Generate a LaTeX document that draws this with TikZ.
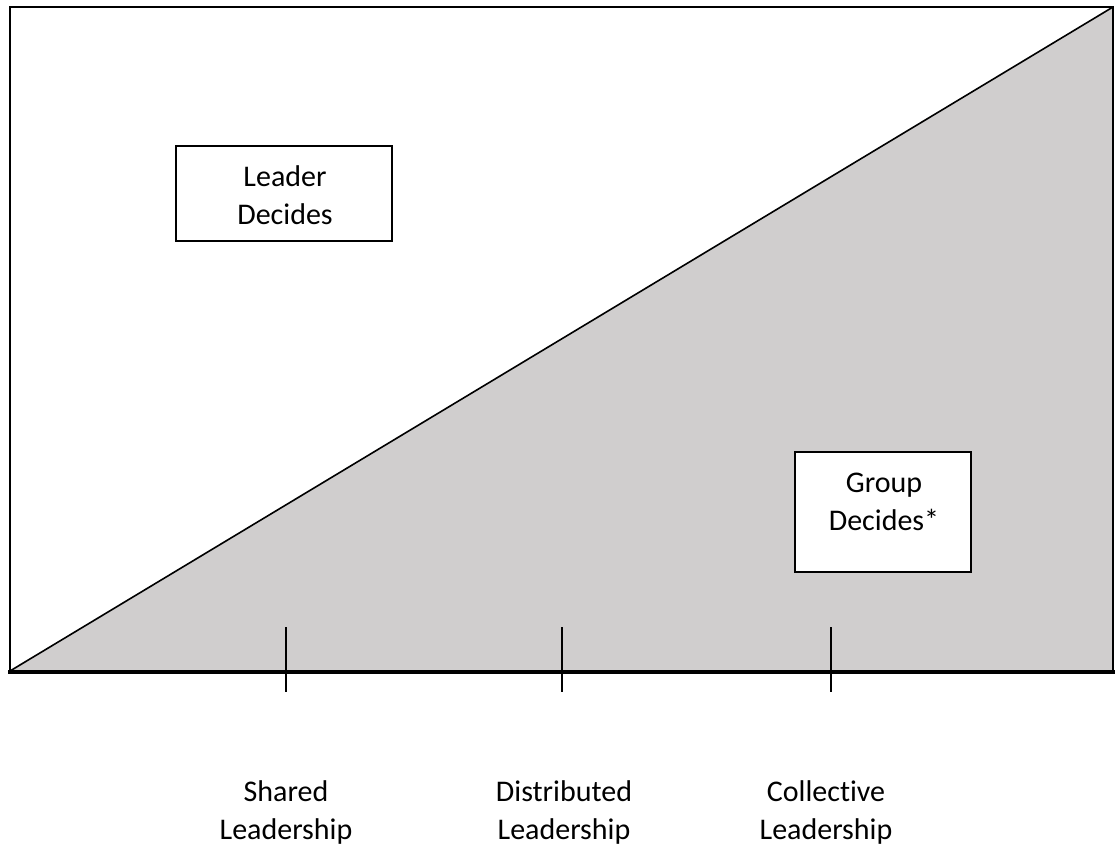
\documentclass[tikz,border=0pt]{standalone}
\usepackage{fontspec}
\setmainfont[Ligatures=CommonOff]{Carlito}
\usepackage{tikz}
\usetikzlibrary{positioning, calc}
\definecolor{triggray}{RGB}{208,206,206}

\begin{document}
\begin{tikzpicture}[
        x=0.5pt, y=-0.5pt,
        font=\fontsize{15}{19}\selectfont,
        frame/.style={draw, line width=1pt},
        label box/.style={
            rectangle,
            draw,
            line width=0.8pt,
            fill=white,
            inner sep=0pt
        },
        box text/.style={align=center, inner sep=0pt},
        tick/.style={line width=0.8pt}
    ]
    \useasboundingbox (0,0) rectangle (1115,850);

    % corners of the frame
    \coordinate (TL) at (10,7);
    \coordinate (TR) at (1113,7);
    \coordinate (BL) at (10,671);
    \coordinate (BR) at (1113,671);

    % shaded triangle
    \fill[triggray] (BL) -- (TR) -- (BR) -- cycle;
    \draw[frame] (TL) rectangle (BR);
    \draw[line width=0.8pt] (BL) -- (TR);

    % baseline
    \coordinate (BaseL) at (8,672);
    \coordinate (BaseR) at (1115,672);
    \draw[line width=1.6pt] (BaseL) -- (BaseR);

    % boxes
    \node[label box, minimum width=108pt, minimum height=47.5pt] (leader) at (284,193.5) {};
    \node[box text] (leadertext) at (285,195) {Leader\\Decides};

    \node[label box, minimum width=88pt, minimum height=60pt] (group) at (883,512) {};
    \node[box text] (grouptext) at (884,502) {Group\\Decides*};

    % ticks and labels
    \foreach \x/\name/\lx/\txt in {286/shared/286/Shared,
                                  562/distributed/564/Distributed,
                                  831/collective/826/Collective} {
        \coordinate (\name top) at (\x,627);
        \coordinate (\name bottom) at (\x,692);
        \draw[tick] (\name top) -- (\name bottom);
        \node[box text] (\name) at (\lx,812) {\txt\\Leadership};
    }
\end{tikzpicture}
\end{document}
